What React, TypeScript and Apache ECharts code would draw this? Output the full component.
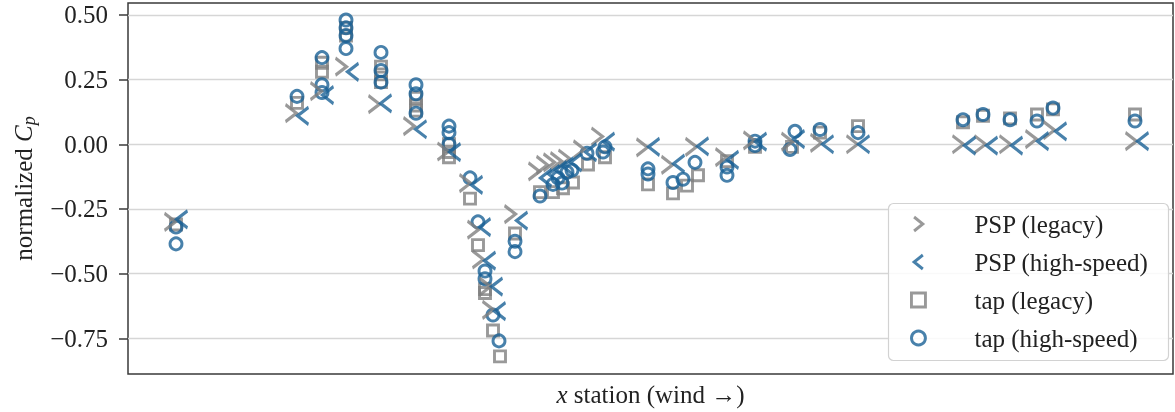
import React, { useEffect, useRef } from "react";
import * as echarts from "echarts";

// x station (arbitrary units along the chord), normalized Cp values
const pspStation = [48, 169, 194, 219, 252, 287, 321, 343, 351, 356, 363, 366, 388, 412, 420, 427, 434, 442, 457, 475, 520, 545, 569, 599, 627, 665, 694, 730, 836, 858, 883, 909, 927, 1009];
const pspLegacy = [-0.30, 0.12, 0.205, 0.30, 0.155, 0.07, -0.028, -0.15, -0.33, -0.445, -0.55, -0.64, -0.27, -0.105, -0.08, -0.07, -0.065, -0.055, -0.02, 0.03, -0.012, -0.08, -0.01, -0.05, 0.015, 0.01, 0.005, 0.0, 0.0, 0.0, 0.0, 0.02, 0.055, 0.012];
const pspHighSpeed = [-0.29, 0.11, 0.19, 0.28, 0.158, 0.058, -0.03, -0.157, -0.32, -0.45, -0.55, -0.645, -0.295, -0.13, -0.115, -0.1, -0.085, -0.07, -0.03, 0.01, -0.01, -0.075, -0.008, -0.06, 0.01, 0.02, 0.0, 0.0, -0.005, -0.005, -0.005, 0.012, 0.05, 0.012];

const tapLegacy: [number, number][] = [
  [48, -0.31], [169, 0.16], [194, 0.315], [194, 0.28], [218, 0.45], [218, 0.42],
  [253, 0.30], [253, 0.27], [253, 0.24], [288, 0.18], [288, 0.15], [288, 0.13],
  [321, 0.0], [321, -0.03], [321, -0.05], [342, -0.21], [350, -0.39], [357, -0.56],
  [357, -0.575], [365, -0.72], [372, -0.82], [387, -0.345], [412, -0.185], [425, -0.185],
  [435, -0.17], [445, -0.148], [460, -0.078], [477, -0.05], [520, -0.155], [545, -0.19],
  [559, -0.16], [570, -0.12], [599, -0.065], [627, -0.01], [664, -0.01], [692, 0.045],
  [730, 0.07], [835, 0.085], [855, 0.11], [882, 0.10], [909, 0.115], [925, 0.135], [1007, 0.115],
];

const tapHighSpeed: [number, number][] = [
  [48, -0.32], [48, -0.385], [169, 0.185], [194, 0.335], [194, 0.23], [194, 0.2],
  [218, 0.48], [218, 0.45], [218, 0.42], [218, 0.37], [253, 0.355], [253, 0.285], [253, 0.24],
  [288, 0.23], [288, 0.195], [288, 0.12], [321, 0.07], [321, 0.045], [321, 0.0],
  [342, -0.13], [350, -0.30], [357, -0.49], [357, -0.52], [365, -0.66], [371, -0.76],
  [387, -0.375], [387, -0.415], [412, -0.2], [425, -0.155], [430, -0.13], [434, -0.15],
  [439, -0.108], [444, -0.1], [459, -0.035], [475, -0.03], [477, -0.01], [520, -0.095],
  [520, -0.115], [545, -0.148], [555, -0.135], [567, -0.07], [599, -0.088], [599, -0.12],
  [627, 0.012], [627, -0.005], [662, -0.02], [667, 0.05], [692, 0.057], [730, 0.045],
  [835, 0.095], [855, 0.115], [882, 0.095], [909, 0.09], [925, 0.14], [1007, 0.09],
];

const yTicks = [-0.75, -0.5, -0.25, 0, 0.25, 0.5];
const seriesNames = ["PSP (legacy)", "PSP (high-speed)", "tap (legacy)", "tap (high-speed)"];

const GRAY = "#808080";
const BLUE = "#1a6296";
const FONT = "'Liberation Serif', 'DejaVu Serif', serif";
const CHEV_R = "path://M0,0L10,8L0,16";
const CHEV_L = "path://M10,0L0,8L10,16";

export default function App() {
  const ref = useRef<HTMLDivElement>(null);
  useEffect(() => {
    if (!ref.current) return;
    const chart = echarts.init(ref.current, undefined, { renderer: "svg" });
    const hollow = (c: string) => ({ color: "rgba(0,0,0,0)", borderColor: c, borderWidth: 2.9 });
    chart.setOption({
      animation: false,
      textStyle: { fontFamily: FONT },
      grid: { left: 128, right: 2, top: 3, bottom: 36, show: true, borderColor: "#3a3a3a", borderWidth: 1.5, backgroundColor: "rgba(0,0,0,0)" },
      xAxis: {
        type: "value",
        min: 0,
        max: 1045,
        axisLine: { show: false },
        axisTick: { show: false },
        axisLabel: { show: false },
        splitLine: { show: false },
        name: "{i|x} station (wind →)",
        nameLocation: "middle",
        nameGap: 8,
        nameTextStyle: {
          fontFamily: FONT,
          fontSize: 25,
          color: "#222",
          rich: { i: { fontFamily: FONT, fontSize: 25, fontStyle: "italic", color: "#222" } },
        },
      },
      yAxis: {
        type: "value",
        min: -0.888,
        max: 0.546,
        axisLine: { show: false },
        axisTick: { show: true, length: 9, lineStyle: { color: "#3a3a3a", width: 1.5 }, customValues: yTicks },
        axisLabel: {
          customValues: yTicks,
          margin: 20,
          fontFamily: FONT,
          fontSize: 25,
          color: "#222",
          formatter: (v: number) => (v < 0 ? "\u2212" : "") + Math.abs(v).toFixed(2),
        },
        splitLine: { show: false },
        name: "{a|normalized }{c|C}{p|p}",
        nameLocation: "middle",
        nameGap: 90,
        nameTextStyle: {
          fontFamily: FONT,
          fontSize: 25,
          color: "#222",
          rich: {
            a: { fontFamily: FONT, fontSize: 25, color: "#222" },
            c: { fontFamily: FONT, fontSize: 25, fontStyle: "italic", color: "#222" },
            p: { fontFamily: FONT, fontSize: 18, fontStyle: "italic", color: "#222", padding: [12, 0, 0, 0] },
          },
        },
      },
      legend: {
        left: 905,
        top: 204,
        orient: "vertical",
        itemWidth: 14,
        itemHeight: 14,
        itemGap: 8,
        z: 10,
        selectedMode: false,
        textStyle: { fontFamily: FONT, fontSize: 25, color: "#222", lineHeight: 30, padding: [0, 0, 0, 44] },
        data: [
          { name: seriesNames[0], icon: CHEV_R, itemStyle: hollow(GRAY) },
          { name: seriesNames[1], icon: CHEV_L, itemStyle: hollow(BLUE) },
          { name: seriesNames[2], icon: "rect", itemStyle: hollow(GRAY) },
          { name: seriesNames[3], icon: "circle", itemStyle: hollow(BLUE) },
        ],
      },
      graphic: [
        {
          type: "rect",
          z: 8,
          shape: { x: 888.5, y: 203.5, width: 280, height: 157, r: 5 },
          style: { fill: "rgba(255,255,255,0.85)", stroke: "#d2d2d2", lineWidth: 1.2 },
        },
      ],
      series: [
        {
          name: "grid",
          type: "scatter",
          data: [],
          z: 0,
          silent: true,
          markLine: {
            silent: true,
            z: 0,
            symbol: ["none", "none"],
            label: { show: false },
            lineStyle: { color: "#d6d6d6", width: 1.3, type: "solid" },
            data: yTicks.map((v) => ({ yAxis: v })),
          },
        },
        {
          name: seriesNames[2],
          type: "scatter",
          z: 3,
          silent: true,
          symbol: "rect",
          symbolSize: 11,
          itemStyle: hollow(GRAY),
          data: tapLegacy,
        },
        {
          name: seriesNames[3],
          type: "scatter",
          z: 3,
          silent: true,
          symbol: "circle",
          symbolSize: 12,
          itemStyle: hollow(BLUE),
          data: tapHighSpeed,
        },
        {
          name: seriesNames[0],
          type: "scatter",
          z: 3,
          silent: true,
          symbol: CHEV_R,
          symbolSize: [11, 17],
          symbolOffset: [-6, 0],
          itemStyle: hollow(GRAY),
          data: pspStation.map((x, i) => [x, pspLegacy[i]]),
        },
        {
          name: seriesNames[1],
          type: "scatter",
          z: 3,
          silent: true,
          symbol: CHEV_L,
          symbolSize: [11, 17],
          symbolOffset: [6, 0],
          itemStyle: hollow(BLUE),
          data: pspStation.map((x, i) => [x, pspHighSpeed[i]]),
        },
      ],
    });
    return () => chart.dispose();
  }, []);
  return <div ref={ref} style={{ position: "fixed", left: 0, top: 0, width: 1175, height: 412 }} />;
}
